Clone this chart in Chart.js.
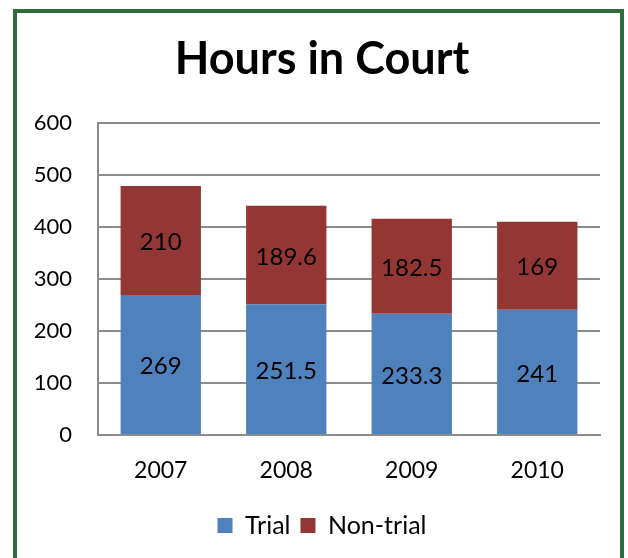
<!DOCTYPE html>
<html>
<head>
<meta charset="utf-8">
<script src="https://cdn.jsdelivr.net/npm/chart.js@4"></script>
<style>
  html, body { margin:0; padding:0; background:#fff; overflow:hidden; }
  #wrap { position:relative; width:628px; height:558px; }
  #frame { position:absolute; left:13px; top:9px; width:611px; height:600px;
           border:4px solid #2F6C3C; box-sizing:border-box; pointer-events:none; }
</style>
</head>
<body>
<div id="wrap">
  <canvas id="chart" width="628" height="558"></canvas>
  <div id="frame"></div>
</div>
<script>
const years = ["2007", "2008", "2009", "2010"];
const trial = [269, 251.5, 233.3, 241];
const nonTrial = [210, 189.6, 182.5, 169];
const yTicks = [0, 100, 200, 300, 400, 500, 600];

const FONT = "Lato, 'Open Sans', sans-serif";

// labels drawn in the middle of each bar segment
const segLabels = {
  id: "segLabels",
  afterDatasetsDraw(chart){
    const ctx = chart.ctx;
    ctx.save();
    ctx.font = "24px " + FONT;
    ctx.fillStyle = "#000";
    ctx.textAlign = "center";
    ctx.textBaseline = "middle";
    chart.data.datasets.forEach((ds, i)=>{
      const meta = chart.getDatasetMeta(i);
      meta.data.forEach((bar, j)=>{
        ctx.fillText(String(ds.data[j]), bar.x, (bar.y + bar.base) / 2 + 2);
      });
    });
    ctx.restore();
  }
};

new Chart(document.getElementById("chart"), {
  type: "bar",
  data: {
    labels: years,
    datasets: [
      { label: "Trial", data: trial, backgroundColor: "#4F81BD" },
      { label: "Non-trial", data: nonTrial, backgroundColor: "#943634" }
    ]
  },
  options: {
    responsive: false,
    animation: false,
    layout: { padding: { left: 16, right: 0, top: 0, bottom: 10 } },
    datasets: { bar: { categoryPercentage: 1, barPercentage: 0.64 } },
    plugins: {
      title: {
        display: true,
        text: "Hours in Court",
        color: "#000",
        font: { family: FONT, size: 45, weight: "bold" },
        padding: { top: 32, bottom: 37 }
      },
      legend: {
        position: "bottom",
        labels: {
          color: "#000",
          font: { family: FONT, size: 25 },
          boxWidth: 15, boxHeight: 15, padding: 10
        }
      },
      tooltip: { enabled: false }
    },
    scales: {
      x: {
        stacked: true,
        grid: { display: false },
        border: { display: true, color: "#8C8C8C", width: 2 },
        ticks: { color: "#000", font: { family: FONT, size: 23 }, padding: 14 },
        afterFit: (s)=>{ s.height = 68; }
      },
      y: {
        stacked: true,
        min: 0, max: 600,
        afterBuildTicks: (s)=>{ s.ticks = yTicks.map(v=>({ value: v })); },
        grid: { color: "#8C8C8C", lineWidth: 2, drawTicks: false },
        border: { display: true, color: "#8C8C8C", width: 2 },
        ticks: { color: "#000", font: { family: FONT, size: 22 }, padding: 26 },
        afterFit: (s)=>{ s.width = 82; }
      },
      // empty right-hand axis, only keeps the plot edge at x=600
      yRight: {
        position: "right",
        display: true,
        grid: { display: false, drawTicks: false },
        border: { display: false },
        ticks: { display: false },
        afterFit: (s)=>{ s.width = 28; }
      }
    }
  },
  plugins: [segLabels]
});
</script>
</body>
</html>
